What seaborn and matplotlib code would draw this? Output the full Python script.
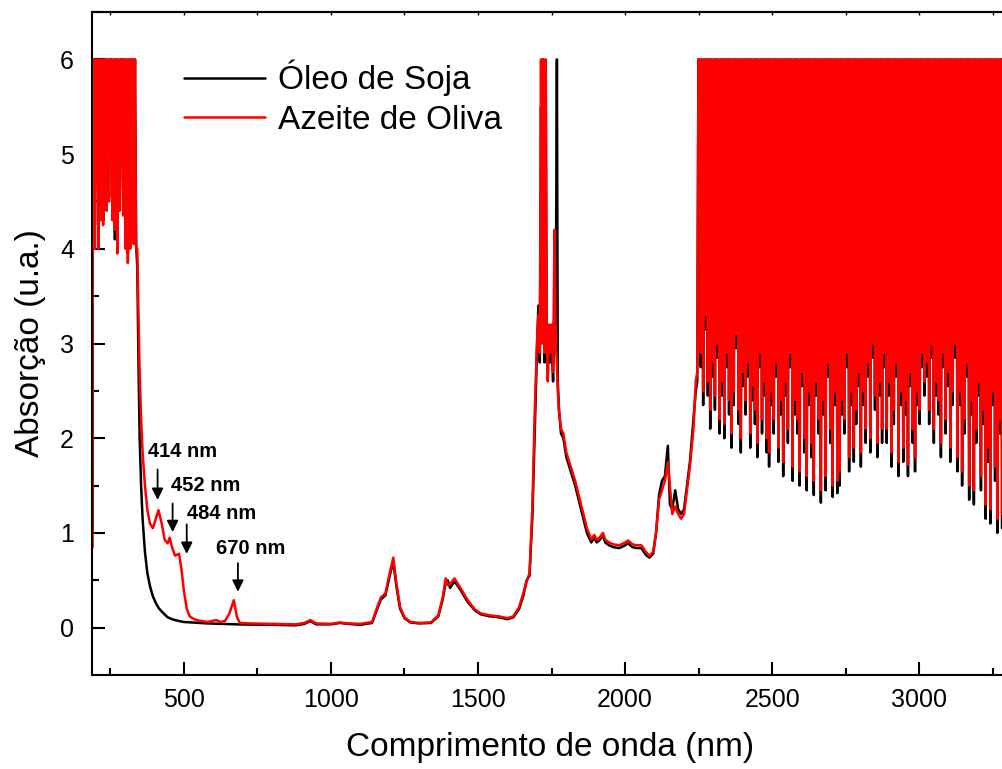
import numpy as np
import pandas as pd
import matplotlib
matplotlib.use("Agg")
import matplotlib.pyplot as plt
import seaborn as sns
from matplotlib.ticker import MultipleLocator

# ---------------- data ----------------
series_names = ["Óleo de Soja", "Azeite de Oliva"]
series_colors = ["#000000", "#ff0000"]

# UV saturated region
wl_uv = [190, 191, 194, 198, 202, 206, 210, 214, 218, 222, 226, 230, 234, 238, 242, 246, 250, 254, 258, 262,
         266, 270, 274, 278, 282, 286, 290, 294, 298, 302, 306, 310, 314, 318, 322, 326, 330, 334, 338]
soja_uv = [1.0, 6, 6, 4.25, 6, 6, 4.2, 6, 4.5, 6, 4.3, 6, 6, 4.5, 6, 4.55, 6, 6, 4.35, 6,
           4.1, 6, 4.05, 6, 4.5, 6, 6, 4.4, 6, 4.1, 6, 3.95, 6, 4.05, 6, 6, 4.1, 6, 4.05]
oliva_uv = [0.85, 6, 6, 4.0, 6, 6, 4.0, 6, 4.3, 6, 4.25, 6, 6, 4.4, 6, 4.5, 6, 6, 4.3, 6,
            4.2, 6, 3.95, 6, 4.4, 6, 6, 4.35, 6, 4.0, 6, 3.85, 6, 4.0, 6, 6, 4.05, 6, 4.0]

# visible / NIR smooth region
wl_vis = [342, 346, 350, 355, 360, 368, 376, 385, 395, 405, 414, 425, 435, 445, 452, 460, 470, 477, 484,
          492, 500, 510, 520, 535, 550, 580, 610, 625, 640, 655, 670, 680, 690, 720, 800, 880, 910, 930,
          950, 1000, 1030, 1060, 1100, 1140, 1160, 1170, 1185, 1200, 1212, 1222, 1235, 1250, 1270, 1300,
          1340, 1365, 1380, 1390, 1397, 1405, 1420, 1440, 1465, 1490, 1510, 1540, 1570, 1600, 1620, 1640,
          1655, 1665, 1675, 1685, 1692, 1700]
soja_vis = [3.8, 2.8, 2.0, 1.5, 1.15, 0.8, 0.58, 0.44, 0.33, 0.26, 0.21, 0.17, 0.14, 0.11, 0.10, 0.09,
            0.08, 0.075, 0.07, 0.065, 0.06, 0.058, 0.055, 0.052, 0.05, 0.045, 0.042, 0.04, 0.04, 0.038,
            0.037, 0.035, 0.034, 0.033, 0.03, 0.025, 0.04, 0.07, 0.035, 0.035, 0.05, 0.04, 0.03, 0.05,
            0.22, 0.30, 0.34, 0.55, 0.70, 0.45, 0.2, 0.1, 0.055, 0.045, 0.05, 0.12, 0.3, 0.48, 0.5, 0.42,
            0.49, 0.4, 0.27, 0.18, 0.14, 0.12, 0.11, 0.09, 0.11, 0.2, 0.35, 0.5, 0.55, 1.2, 2.0, 2.9]
oliva_vis = [4.0, 3.3, 2.7, 2.2, 1.85, 1.5, 1.25, 1.1, 1.05, 1.15, 1.24, 1.1, 0.93, 0.89, 0.95, 0.85,
             0.76, 0.77, 0.78, 0.62, 0.4, 0.2, 0.12, 0.09, 0.075, 0.06, 0.08, 0.06, 0.07, 0.15, 0.29,
             0.12, 0.05, 0.045, 0.04, 0.035, 0.05, 0.08, 0.045, 0.04, 0.055, 0.045, 0.04, 0.06, 0.24,
             0.32, 0.36, 0.58, 0.74, 0.48, 0.22, 0.11, 0.06, 0.05, 0.055, 0.13, 0.32, 0.52, 0.45, 0.46,
             0.52, 0.42, 0.29, 0.19, 0.15, 0.13, 0.12, 0.10, 0.12, 0.22, 0.38, 0.48, 0.58, 1.3, 2.2, 3.0]

# C=O overtone peaks region
wl_co = [1705, 1710, 1714, 1718, 1722, 1726, 1730, 1733, 1737, 1741, 1745, 1750, 1755, 1760, 1764, 1768,
         1771, 1775, 1782]
soja_co = [3.4, 2.8, 5.5, 3.2, 6.0, 2.8, 5.9, 3.0, 2.7, 3.1, 2.8, 3.0, 2.6, 3.5, 3.2, 6.0, 2.6, 2.3, 2.05]
oliva_co = [3.3, 2.9, 6.0, 3.0, 6.0, 2.9, 6.0, 3.2, 2.6, 3.2, 2.9, 3.2, 2.7, 4.2, 3.0, 2.8, 2.5, 2.3, 2.1]

# 1790-2240 nm
wl_nir = [1790, 1800, 1815, 1830, 1850, 1870, 1885, 1895, 1903, 1912, 1925, 1932, 1945, 1960, 1980, 2000,
          2010, 2025, 2040, 2055, 2070, 2082, 2095, 2105, 2115, 2125, 2135, 2145, 2152, 2160, 2170, 2180,
          2190, 2200, 2210, 2220, 2232, 2240]
soja_nir = [2.0, 1.8, 1.65, 1.5, 1.25, 1.0, 0.9, 0.95, 0.9, 0.92, 0.97, 0.9, 0.87, 0.85, 0.84, 0.87,
            0.89, 0.85, 0.84, 0.84, 0.77, 0.74, 0.78, 1.0, 1.4, 1.55, 1.6, 1.92, 1.3, 1.25, 1.45, 1.25,
            1.2, 1.25, 1.5, 1.75, 2.2, 2.5]
oliva_nir = [2.05, 1.85, 1.7, 1.55, 1.3, 1.05, 0.93, 0.98, 0.93, 0.95, 1.0, 0.93, 0.9, 0.88, 0.87, 0.9,
             0.92, 0.88, 0.87, 0.87, 0.8, 0.76, 0.8, 1.0, 1.35, 1.45, 1.55, 1.75, 1.5, 1.2, 1.28, 1.2,
             1.15, 1.2, 1.45, 1.7, 2.1, 2.6]

# saturated / noisy region 2245-3293 nm (4 nm sampling)
soja_sat = [2.6, 6, 6, 2.75, 6, 2.35, 6, 3.15, 6, 2.45, 6, 2.1, 6, 2.65, 6, 2.3, 6, 2.85, 6, 2.05,
            6, 2.45, 6, 2.0, 6, 2.75, 6, 2.25, 6, 1.9, 6, 2.35, 6, 2.95, 6, 2.15, 6, 1.85, 6, 2.55,
            6, 2.25, 6, 2.65, 6, 1.9, 6, 2.4, 6, 2.15, 6, 1.8, 6, 2.75, 6, 2.05, 6, 2.45, 6, 1.85,
            6, 1.7, 6, 2.35, 6, 2.05, 6, 2.65, 6, 1.75, 6, 2.25, 6, 1.6, 6, 2.45, 6, 1.95, 6, 2.75,
            6, 1.55, 6, 2.25, 6, 2.05, 6, 1.5, 6, 2.55, 6, 1.85, 6, 1.45, 6, 2.35, 6, 1.8, 6, 1.4,
            6, 2.45, 6, 2.05, 6, 1.32, 6, 2.25, 6, 1.45, 6, 2.65, 6, 1.95, 6, 1.38, 6, 2.35, 6, 1.42,
            6, 1.5, 6, 2.25, 6, 2.05, 6, 2.75, 6, 1.65, 6, 2.35, 6, 1.75, 6, 2.15, 6, 2.55, 6, 1.7,
            6, 2.35, 6, 1.95, 6, 2.65, 6, 1.85, 6, 2.85, 6, 2.3, 6, 1.8, 6, 2.45, 6, 1.95, 6, 2.75,
            6, 1.95, 6, 2.45, 6, 1.7, 6, 2.15, 6, 2.65, 6, 1.6, 6, 2.35, 6, 1.75, 6, 2.25, 6, 1.6,
            6, 2.55, 6, 1.95, 6, 1.65, 6, 2.35, 6, 2.15, 6, 2.75, 6, 2.45, 6, 2.65, 6, 2.15, 6, 2.85,
            6, 1.95, 6, 2.45, 6, 2.25, 6, 1.8, 6, 2.75, 6, 2.05, 6, 2.55, 6, 1.75, 6, 2.35, 6, 2.85,
            6, 1.65, 6, 2.35, 6, 1.5, 6, 2.05, 6, 2.65, 6, 1.35, 6, 2.25, 6, 1.3, 6, 1.95, 6, 2.45,
            6, 1.45, 6, 2.15, 6, 1.15, 6, 1.75, 6, 1.1, 6, 2.35, 6, 1.55, 6, 1.0, 6, 2.05, 6, 1.05,
            6, 1.75, 6]
oliva_sat = [2.7, 6, 6, 2.9, 6, 2.5, 6, 3.3, 6, 2.6, 6, 2.3, 6, 2.8, 6, 2.45, 6, 3.0, 6, 2.2,
             6, 2.6, 6, 2.15, 6, 2.9, 6, 2.4, 6, 2.05, 6, 2.5, 6, 3.1, 6, 2.3, 6, 2.0, 6, 2.7,
             6, 2.4, 6, 2.8, 6, 2.05, 6, 2.55, 6, 2.3, 6, 1.95, 6, 2.9, 6, 2.2, 6, 2.6, 6, 2.0,
             6, 1.85, 6, 2.5, 6, 2.2, 6, 2.8, 6, 1.9, 6, 2.4, 6, 1.75, 6, 2.6, 6, 2.1, 6, 2.9,
             6, 1.7, 6, 2.4, 6, 2.2, 6, 1.65, 6, 2.7, 6, 2.0, 6, 1.6, 6, 2.5, 6, 1.95, 6, 1.55,
             6, 2.6, 6, 2.2, 6, 1.45, 6, 2.4, 6, 1.6, 6, 2.8, 6, 2.1, 6, 1.5, 6, 2.5, 6, 1.55,
             6, 1.65, 6, 2.4, 6, 2.2, 6, 2.9, 6, 1.8, 6, 2.5, 6, 1.9, 6, 2.3, 6, 2.7, 6, 1.85,
             6, 2.5, 6, 2.1, 6, 2.8, 6, 2.0, 6, 3.0, 6, 2.45, 6, 1.95, 6, 2.6, 6, 2.1, 6, 2.9,
             6, 2.1, 6, 2.6, 6, 1.85, 6, 2.3, 6, 2.8, 6, 1.75, 6, 2.5, 6, 1.9, 6, 2.4, 6, 1.72,
             6, 2.7, 6, 2.1, 6, 1.8, 6, 2.5, 6, 2.3, 6, 2.9, 6, 2.6, 6, 2.8, 6, 2.3, 6, 3.0,
             6, 2.1, 6, 2.6, 6, 2.4, 6, 1.95, 6, 2.9, 6, 2.2, 6, 2.7, 6, 1.9, 6, 2.5, 6, 3.0,
             6, 1.8, 6, 2.5, 6, 1.65, 6, 2.2, 6, 2.8, 6, 1.5, 6, 2.4, 6, 1.45, 6, 2.1, 6, 2.6,
             6, 1.6, 6, 2.3, 6, 1.3, 6, 1.9, 6, 1.25, 6, 2.5, 6, 1.7, 6, 1.15, 6, 2.2, 6, 1.2,
             6, 1.9, 6]
wl_sat = np.linspace(2245, 3293, len(oliva_sat))

# annotations (label, text x, text y, arrow x, arrow top, arrow tip)
ann_labels = ["414 nm", "452 nm", "484 nm", "670 nm"]
ann_text_xy = [(377, 1.86), (456, 1.50), (510, 1.21), (609, 0.84)]
ann_arrows = [(411, 1.70, 1.32), (462, 1.34, 0.98), (510, 1.12, 0.75), (684, 0.71, 0.35)]

# ---------------- build table ----------------
wl_all = np.concatenate([wl_uv, wl_vis, wl_co, wl_nir, wl_sat])
soja_all = np.concatenate([soja_uv, soja_vis, soja_co, soja_nir, soja_sat])
oliva_all = np.concatenate([oliva_uv, oliva_vis, oliva_co, oliva_nir, oliva_sat])
df = pd.concat([
    pd.DataFrame({"wl": wl_all, "abs": soja_all, "oil": series_names[0]}),
    pd.DataFrame({"wl": wl_all, "abs": oliva_all, "oil": series_names[1]}),
], ignore_index=True)

# ---------------- plot ----------------
sns.set_style("ticks")
plt.rcParams["font.family"] = ["Liberation Sans", "DejaVu Sans"]

fig = plt.figure(figsize=(10.03, 7.69), dpi=100)
ax = fig.add_axes([0.0917, 0.1222, 0.913, 0.8622])

sns.lineplot(data=df, x="wl", y="abs", hue="oil", hue_order=series_names,
             palette=dict(zip(series_names, series_colors)), estimator=None, sort=False,
             lw=1.8, ax=ax, legend=False)

ax.set_xlim(188, 3300)
ax.set_ylim(-0.5, 6.5)
ax.xaxis.set_major_locator(MultipleLocator(500))
ax.xaxis.set_minor_locator(MultipleLocator(250))
ax.yaxis.set_major_locator(MultipleLocator(1))
ax.yaxis.set_minor_locator(MultipleLocator(0.5))
ax.tick_params(which="major", direction="in", length=9.5, width=1.5, labelsize=18,
               color="black", labelcolor="black")
ax.tick_params(which="minor", direction="in", length=5, width=1.5, color="black")
ax.tick_params(axis="x", pad=9)
ax.tick_params(axis="y", pad=13)
for s in ax.spines.values():
    s.set_linewidth(1.5)
    s.set_color("black")

top = ax.secondary_xaxis("top")
top.xaxis.set_major_locator(MultipleLocator(250))
top.tick_params(direction="in", length=2.5, width=1.0, labeltop=False, color="black")
top.spines["top"].set_linewidth(1.5)
top.spines["top"].set_color("black")

ax.set_xlabel("Comprimento de onda (nm)", fontsize=24, labelpad=15, color="black")
ax.set_ylabel("Absorção (u.a.)", fontsize=24, labelpad=10, color="black")

handles = [plt.Line2D([], [], color=c, lw=1.8) for c in series_colors]
leg = ax.legend(handles, series_names, loc="upper left", bbox_to_anchor=(0.0855, 0.948), frameon=False,
                fontsize=24, handlelength=2.45, handletextpad=0.38, labelspacing=0.25, borderaxespad=0)
for t in leg.get_texts():
    t.set_color("black")

for lab, (tx, ty), (axx, ay0, ay1) in zip(ann_labels, ann_text_xy, ann_arrows):
    ax.text(tx, ty, lab, fontsize=14.5, fontweight="bold", ha="left", va="center", color="black")
    ax.annotate("", xy=(axx, ay1), xytext=(axx, ay0),
                arrowprops=dict(arrowstyle="-|>", color="black", lw=1.3, mutation_scale=17))

fig.savefig("out.png", dpi=100)
